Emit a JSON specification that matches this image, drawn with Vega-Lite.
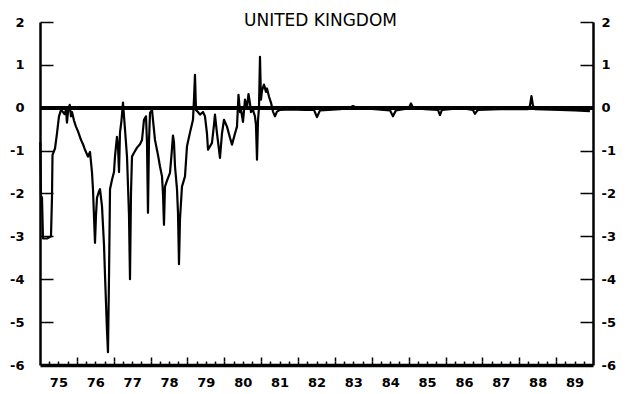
{
  "$schema": "https://vega.github.io/schema/vega-lite/v6.json",
  "width": 553,
  "height": 343,
  "autosize": "none",
  "padding": {"left": 40, "top": 22, "right": 35, "bottom": 29},
  "background": "white",
  "title": {
    "text": "UNITED KINGDOM",
    "font": "DejaVu Sans",
    "fontSize": 17,
    "fontWeight": "normal",
    "color": "black",
    "offset": -14,
    "dx": 4
  },
  "config": {
    "view": {"stroke": null},
    "axis": {
      "grid": false,
      "title": null,
      "domainColor": "black",
      "tickColor": "black",
      "labelColor": "black",
      "labelFont": "DejaVu Sans",
      "labelFontWeight": "bold",
      "labelFontSize": 13,
      "labelFlush": false,
      "labelBound": false,
      "labelOverlap": false
    }
  },
  "data": {
    "values": [
      {"t": 1975.008, "v": -0.8},
      {"t": 1975.027, "v": -2.05},
      {"t": 1975.054, "v": -2.1},
      {"t": 1975.081, "v": -3.05},
      {"t": 1975.190, "v": -3.05},
      {"t": 1975.298, "v": -3.0},
      {"t": 1975.325, "v": -2.1},
      {"t": 1975.339, "v": -1.1},
      {"t": 1975.407, "v": -0.95},
      {"t": 1975.461, "v": -0.6},
      {"t": 1975.515, "v": -0.2},
      {"t": 1975.570, "v": -0.05},
      {"t": 1975.624, "v": -0.1},
      {"t": 1975.664, "v": -0.15},
      {"t": 1975.705, "v": -0.05},
      {"t": 1975.732, "v": -0.35},
      {"t": 1975.759, "v": -0.1},
      {"t": 1975.806, "v": 0.07},
      {"t": 1975.841, "v": -0.2},
      {"t": 1975.868, "v": -0.1},
      {"t": 1975.922, "v": -0.3},
      {"t": 1975.976, "v": -0.44},
      {"t": 1976.031, "v": -0.55},
      {"t": 1976.112, "v": -0.75},
      {"t": 1976.166, "v": -0.85},
      {"t": 1976.220, "v": -0.98},
      {"t": 1976.302, "v": -1.14},
      {"t": 1976.356, "v": -1.03},
      {"t": 1976.410, "v": -1.5},
      {"t": 1976.437, "v": -1.9},
      {"t": 1976.492, "v": -3.15},
      {"t": 1976.519, "v": -2.5},
      {"t": 1976.546, "v": -2.1},
      {"t": 1976.600, "v": -1.95},
      {"t": 1976.627, "v": -1.9},
      {"t": 1976.682, "v": -2.3},
      {"t": 1976.736, "v": -3.2},
      {"t": 1976.763, "v": -3.9},
      {"t": 1976.817, "v": -5.2},
      {"t": 1976.844, "v": -5.7},
      {"t": 1976.871, "v": -4.0},
      {"t": 1976.899, "v": -1.9},
      {"t": 1976.953, "v": -1.68},
      {"t": 1977.007, "v": -1.5},
      {"t": 1977.034, "v": -1.14},
      {"t": 1977.061, "v": -0.9},
      {"t": 1977.088, "v": -0.68},
      {"t": 1977.116, "v": -0.9},
      {"t": 1977.143, "v": -1.5},
      {"t": 1977.170, "v": -0.58},
      {"t": 1977.210, "v": -0.3},
      {"t": 1977.251, "v": 0.12},
      {"t": 1977.305, "v": -0.5},
      {"t": 1977.360, "v": -1.14},
      {"t": 1977.414, "v": -2.5},
      {"t": 1977.441, "v": -4.0},
      {"t": 1977.468, "v": -2.0},
      {"t": 1977.495, "v": -1.14},
      {"t": 1977.550, "v": -1.05},
      {"t": 1977.631, "v": -0.93},
      {"t": 1977.712, "v": -0.85},
      {"t": 1977.767, "v": -0.75},
      {"t": 1977.821, "v": -0.28},
      {"t": 1977.875, "v": -0.2},
      {"t": 1977.902, "v": -0.8},
      {"t": 1977.929, "v": -2.45},
      {"t": 1977.956, "v": -0.8},
      {"t": 1977.984, "v": -0.12},
      {"t": 1978.038, "v": -0.05},
      {"t": 1978.078, "v": -0.4},
      {"t": 1978.119, "v": -0.75},
      {"t": 1978.200, "v": -1.1},
      {"t": 1978.255, "v": -1.37},
      {"t": 1978.309, "v": -1.6},
      {"t": 1978.336, "v": -2.0},
      {"t": 1978.363, "v": -2.73},
      {"t": 1978.390, "v": -1.84},
      {"t": 1978.445, "v": -1.7},
      {"t": 1978.526, "v": -1.52},
      {"t": 1978.567, "v": -1.1},
      {"t": 1978.607, "v": -0.65},
      {"t": 1978.634, "v": -0.8},
      {"t": 1978.662, "v": -1.37},
      {"t": 1978.716, "v": -1.9},
      {"t": 1978.743, "v": -2.45},
      {"t": 1978.770, "v": -3.65},
      {"t": 1978.797, "v": -2.6},
      {"t": 1978.851, "v": -1.84},
      {"t": 1978.933, "v": -1.6},
      {"t": 1978.987, "v": -0.9},
      {"t": 1979.068, "v": -0.58},
      {"t": 1979.150, "v": -0.28},
      {"t": 1979.177, "v": 0.2},
      {"t": 1979.204, "v": 0.77},
      {"t": 1979.231, "v": -0.05},
      {"t": 1979.285, "v": -0.1},
      {"t": 1979.340, "v": -0.16},
      {"t": 1979.421, "v": -0.1},
      {"t": 1979.475, "v": -0.2},
      {"t": 1979.529, "v": -0.6},
      {"t": 1979.557, "v": -0.98},
      {"t": 1979.611, "v": -0.9},
      {"t": 1979.665, "v": -0.82},
      {"t": 1979.719, "v": -0.4},
      {"t": 1979.746, "v": -0.16},
      {"t": 1979.801, "v": -0.6},
      {"t": 1979.882, "v": -1.17},
      {"t": 1979.936, "v": -0.6},
      {"t": 1979.991, "v": -0.28},
      {"t": 1980.072, "v": -0.44},
      {"t": 1980.153, "v": -0.7},
      {"t": 1980.208, "v": -0.86},
      {"t": 1980.289, "v": -0.6},
      {"t": 1980.343, "v": -0.44},
      {"t": 1980.384, "v": 0.3},
      {"t": 1980.425, "v": -0.1},
      {"t": 1980.452, "v": -0.05},
      {"t": 1980.506, "v": -0.33},
      {"t": 1980.560, "v": 0.19},
      {"t": 1980.614, "v": 0.0},
      {"t": 1980.655, "v": 0.32},
      {"t": 1980.696, "v": 0.1},
      {"t": 1980.723, "v": -0.1},
      {"t": 1980.777, "v": -0.05},
      {"t": 1980.831, "v": -0.2},
      {"t": 1980.858, "v": -0.4},
      {"t": 1980.886, "v": -1.21},
      {"t": 1980.913, "v": -0.3},
      {"t": 1980.940, "v": 0.0},
      {"t": 1980.967, "v": 1.19},
      {"t": 1980.994, "v": 0.19},
      {"t": 1981.021, "v": 0.4},
      {"t": 1981.075, "v": 0.54},
      {"t": 1981.130, "v": 0.37},
      {"t": 1981.157, "v": 0.45},
      {"t": 1981.211, "v": 0.26},
      {"t": 1981.265, "v": 0.12},
      {"t": 1981.320, "v": -0.09},
      {"t": 1981.374, "v": -0.2},
      {"t": 1981.428, "v": -0.09},
      {"t": 1981.509, "v": -0.05},
      {"t": 1981.781, "v": -0.04},
      {"t": 1982.187, "v": -0.05},
      {"t": 1982.432, "v": -0.05},
      {"t": 1982.513, "v": -0.22},
      {"t": 1982.594, "v": -0.06},
      {"t": 1983.137, "v": -0.03},
      {"t": 1983.408, "v": 0.0},
      {"t": 1983.489, "v": 0.04},
      {"t": 1983.598, "v": 0.0},
      {"t": 1984.086, "v": -0.03},
      {"t": 1984.493, "v": -0.06},
      {"t": 1984.574, "v": -0.2},
      {"t": 1984.656, "v": -0.06},
      {"t": 1984.900, "v": -0.03},
      {"t": 1985.008, "v": 0.0},
      {"t": 1985.062, "v": 0.1},
      {"t": 1985.117, "v": 0.0},
      {"t": 1985.442, "v": -0.03},
      {"t": 1985.795, "v": -0.05},
      {"t": 1985.849, "v": -0.17},
      {"t": 1985.903, "v": -0.05},
      {"t": 1986.256, "v": -0.02},
      {"t": 1986.391, "v": 0.0},
      {"t": 1986.527, "v": -0.02},
      {"t": 1986.744, "v": -0.05},
      {"t": 1986.798, "v": -0.14},
      {"t": 1986.880, "v": -0.05},
      {"t": 1987.476, "v": -0.03},
      {"t": 1988.236, "v": -0.03},
      {"t": 1988.290, "v": 0.05},
      {"t": 1988.331, "v": 0.27},
      {"t": 1988.371, "v": 0.05},
      {"t": 1988.426, "v": -0.03},
      {"t": 1989.104, "v": -0.05},
      {"t": 1989.510, "v": -0.06},
      {"t": 1989.917, "v": -0.08}
    ]
  },
  "layer": [
    {
      "mark": {"type": "line", "color": "black", "strokeWidth": 2.2, "strokeJoin": "round"},
      "encoding": {
        "x": {
          "field": "t",
          "type": "quantitative",
          "scale": {"domain": [1975, 1990], "nice": false, "zero": false},
          "axis": {"orient": "bottom", "ticks": false, "labels": false, "domainWidth": 3.5}
        },
        "y": {
          "field": "v",
          "type": "quantitative",
          "scale": {"domain": [-6, 2], "nice": false, "zero": false},
          "axis": {"orient": "left", "ticks": false, "labels": false, "domainWidth": 2.5}
        }
      }
    },
    {
      "mark": {"type": "rule", "color": "black", "strokeWidth": 3.5},
      "encoding": {
        "x": {
          "datum": 1975,
          "type": "quantitative",
          "axis": {
            "orient": "bottom",
            "values": [1975.25, 1975.5, 1975.75, 1976.25, 1976.5, 1976.75, 1977.25, 1977.5, 1977.75, 1978.25, 1978.5, 1978.75, 1979.25, 1979.5, 1979.75, 1980.25, 1980.5, 1980.75, 1981.25, 1981.5, 1981.75, 1982.25, 1982.5, 1982.75, 1983.25, 1983.5, 1983.75, 1984.25, 1984.5, 1984.75, 1985.25, 1985.5, 1985.75, 1986.25, 1986.5, 1986.75, 1987.25, 1987.5, 1987.75, 1988.25, 1988.5, 1988.75, 1989.25, 1989.5, 1989.75],
            "labels": false,
            "domain": false,
            "offset": -4,
            "tickSize": 4,
            "tickWidth": 1.5
          }
        },
        "x2": {"datum": 1990},
        "y": {
          "datum": 0,
          "type": "quantitative",
          "axis": {"orient": "right", "ticks": false, "labels": false, "domainWidth": 2.5}
        }
      }
    },
    {
      "mark": {"type": "rule", "color": "black", "strokeWidth": 3.5},
      "encoding": {
        "x": {
          "datum": 1975,
          "type": "quantitative",
          "axis": {
            "orient": "bottom",
            "values": [1975, 1976, 1977, 1978, 1979, 1980, 1981, 1982, 1983, 1984, 1985, 1986, 1987, 1988, 1989],
            "format": "d",
            "labelExpr": "substring(datum.label, 2, 4)",
            "labelOffset": 18.4,
            "labelPadding": 11,
            "ticks": false,
            "domain": false
          }
        },
        "x2": {"datum": 1990},
        "y": {
          "datum": 0,
          "type": "quantitative",
          "axis": {
            "orient": "left",
            "values": [-6, -5, -4, -3, -2, -1, 0, 1, 2],
            "labelExpr": "datum.value < 0 ? '-' + abs(datum.value) : '' + datum.value",
            "labelPadding": 16,
            "ticks": false,
            "domain": false
          }
        }
      }
    },
    {
      "mark": {"type": "rule", "color": "black", "strokeWidth": 3.5},
      "encoding": {
        "x": {"datum": 1975, "type": "quantitative", "axis": null},
        "x2": {"datum": 1990},
        "y": {
          "datum": 0,
          "type": "quantitative",
          "axis": {
            "orient": "right",
            "values": [-6, -5, -4, -3, -2, -1, 0, 1, 2],
            "labelExpr": "datum.value < 0 ? '-' + abs(datum.value) : '' + datum.value",
            "labelPadding": 8,
            "ticks": false,
            "domain": false
          }
        }
      }
    },
    {
      "mark": {"type": "rule", "color": "black", "strokeWidth": 3.5},
      "encoding": {
        "x": {
          "datum": 1975,
          "type": "quantitative",
          "axis": {
            "orient": "bottom",
            "values": [1976.0002, 1977.0002, 1978.0002, 1979.0002, 1980.0002, 1981.0002, 1982.0002, 1983.0002, 1984.0002, 1985.0002, 1986.0002, 1987.0002, 1988.0002, 1989.0002],
            "labels": false,
            "domain": false,
            "offset": -4,
            "tickSize": 4,
            "tickWidth": 1.5
          }
        },
        "x2": {"datum": 1990},
        "y": {
          "datum": 0,
          "type": "quantitative",
          "axis": {
            "orient": "left",
            "values": [-4.9998, -3.9998, -2.9998, -1.9998, -0.9998, 1.0002, 1.9998],
            "labels": false,
            "domain": false,
            "offset": -4.4,
            "tickSize": 4.4,
            "tickWidth": 1.5
          }
        }
      }
    },
    {
      "mark": {"type": "rule", "color": "black", "strokeWidth": 3.5},
      "encoding": {
        "x": {
          "datum": 1975,
          "type": "quantitative",
          "axis": {
            "orient": "bottom",
            "values": [1976.0002, 1977.0002, 1978.0002, 1979.0002, 1980.0002, 1981.0002, 1982.0002, 1983.0002, 1984.0002, 1985.0002, 1986.0002, 1987.0002, 1988.0002, 1989.0002],
            "labels": false,
            "domain": false,
            "offset": -8,
            "tickSize": 4,
            "tickWidth": 1.5
          }
        },
        "x2": {"datum": 1990},
        "y": {
          "datum": 0,
          "type": "quantitative",
          "axis": {
            "orient": "left",
            "values": [-4.9998, -3.9998, -2.9998, -1.9998, -0.9998, 1.0002, 1.9998],
            "labels": false,
            "domain": false,
            "offset": -8.8,
            "tickSize": 4.4,
            "tickWidth": 1.5
          }
        }
      }
    },
    {
      "mark": {"type": "rule", "color": "black", "strokeWidth": 3.5},
      "encoding": {
        "x": {"datum": 1975, "type": "quantitative", "axis": null},
        "x2": {"datum": 1990},
        "y": {
          "datum": 0,
          "type": "quantitative",
          "axis": {
            "orient": "left",
            "values": [-4.9998, -3.9998, -2.9998, -1.9998, -0.9998, 1.0002, 1.9998],
            "labels": false,
            "domain": false,
            "offset": -13,
            "tickSize": 4.4,
            "tickWidth": 1.5
          }
        }
      }
    },
    {
      "mark": {"type": "rule", "color": "black", "strokeWidth": 3.5},
      "encoding": {
        "x": {"datum": 1975, "type": "quantitative", "axis": null},
        "x2": {"datum": 1990},
        "y": {
          "datum": 0,
          "type": "quantitative",
          "axis": {
            "orient": "right",
            "values": [-4.9998, -3.9998, -2.9998, -1.9998, -0.9998, 1.0002, 1.9998],
            "labels": false,
            "domain": false,
            "offset": -4.4,
            "tickSize": 4.4,
            "tickWidth": 1.5
          }
        }
      }
    },
    {
      "mark": {"type": "rule", "color": "black", "strokeWidth": 3.5},
      "encoding": {
        "x": {"datum": 1975, "type": "quantitative", "axis": null},
        "x2": {"datum": 1990},
        "y": {
          "datum": 0,
          "type": "quantitative",
          "axis": {
            "orient": "right",
            "values": [-4.9998, -3.9998, -2.9998, -1.9998, -0.9998, 1.0002, 1.9998],
            "labels": false,
            "domain": false,
            "offset": -8.8,
            "tickSize": 4.4,
            "tickWidth": 1.5
          }
        }
      }
    },
    {
      "mark": {"type": "rule", "color": "black", "strokeWidth": 3.5},
      "encoding": {
        "x": {"datum": 1975, "type": "quantitative", "axis": null},
        "x2": {"datum": 1990},
        "y": {
          "datum": 0,
          "type": "quantitative",
          "axis": {
            "orient": "right",
            "values": [-4.9998, -3.9998, -2.9998, -1.9998, -0.9998, 1.0002, 1.9998],
            "labels": false,
            "domain": false,
            "offset": -13,
            "tickSize": 4.4,
            "tickWidth": 1.5
          }
        }
      }
    }
  ],
  "resolve": {"axis": {"x": "independent", "y": "independent"}}
}
